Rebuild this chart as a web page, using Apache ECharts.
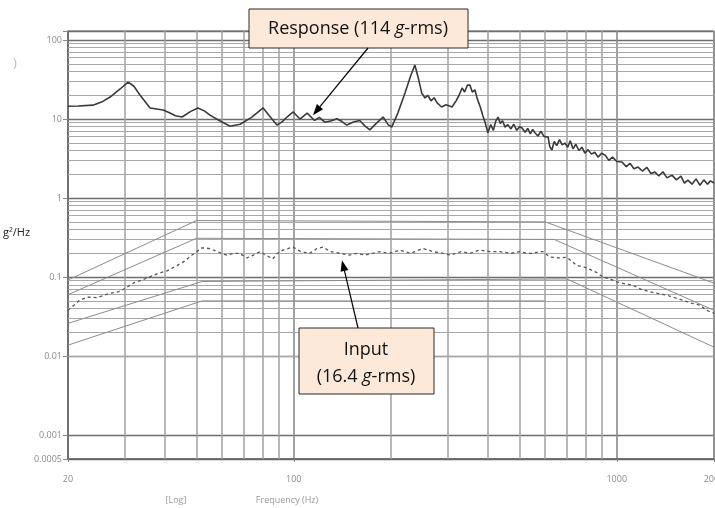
<!DOCTYPE html>
<html>
<head>
<meta charset="utf-8">
<script src="https://cdn.jsdelivr.net/npm/echarts@6/dist/echarts.min.js"></script>
<style>
  html, body { margin: 0; padding: 0; background: #fff; }
  #chart { width: 715px; height: 508px; }
</style>
</head>
<body>
<div id="chart"></div>
<script>
// measured response (solid) and input (dashed), [Hz, g^2/Hz]
const responseData = [
  [20, 14.5], [21.5, 14.6], [23.9, 15], [25.5, 16.5], [27, 19], [29, 24], [30.7, 29.4],
  [32, 26], [33.4, 20.1], [35.9, 13.8], [39.4, 13], [41.4, 11.9], [43, 11], [45.1, 10.6],
  [48, 12.5], [50.5, 13.8], [53, 12.6], [55, 11.2], [59, 9.5], [63.5, 8.1], [68.2, 8.6],
  [74, 10.5], [80.4, 13.8], [84, 11], [88.7, 8.4], [92, 9.2], [95.3, 10.6], [99.6, 12.3],
  [104.5, 10], [110, 11.9], [116, 9.6], [120, 10.5], [125, 9.1], [131, 9.5], [136, 10.1],
  [141, 9.3], [146, 8.4], [153, 9.2], [160, 9.6], [166, 8.2], [172, 7.3], [180, 8.8],
  [189, 10.6], [196, 8.5], [201, 7.9], [210, 11.9], [221, 21.3], [230, 35], [237, 48.3],
  [243, 33], [249, 21.3], [255, 18.5], [260, 20], [266, 17], [272, 18.6], [278, 16],
  [287, 14.2], [296, 15.2], [309, 14.2], [318, 17], [325, 20], [332, 24.7], [338, 22],
  [345, 27], [351, 26.9], [357, 22], [364, 23.3], [370, 18], [378, 14.2], [385, 11],
  [391, 9.1], [399, 6.7], [407, 8.5], [415, 7.2], [422, 9.4], [429, 10.6], [436, 8.8],
  [443, 9.5], [451, 7.9], [460, 8.5], [470, 7.5], [480, 8.6], [490, 7.2], [500, 8.0],
  [509, 7.7], [520, 6.8], [530, 7.6], [540, 6.5], [549, 7.4], [558, 6.7], [570, 6.1],
  [582, 7.0], [596, 6.0], [613, 5.9], [620, 4.5], [630, 4.06], [640, 5.2], [652, 4.6],
  [665, 5.5], [678, 4.7], [691, 4.97], [705, 4.4], [718, 5.3], [732, 4.2], [747, 4.8],
  [763, 4.0], [780, 4.4], [797, 3.7], [815, 4.1], [835, 3.6], [855, 3.8], [875, 3.3],
  [897, 3.7], [920, 3.5], [945, 3.0], [970, 3.3], [1000, 2.9], [1038, 2.86], [1070, 2.5],
  [1100, 2.75], [1130, 2.35], [1164, 2.47], [1200, 2.2], [1240, 2.45], [1275, 2.05],
  [1313, 2.13], [1350, 1.9], [1390, 2.15], [1430, 1.8], [1482, 1.95], [1530, 1.7],
  [1580, 1.9], [1620, 1.55], [1660, 1.69], [1710, 1.5], [1760, 1.75], [1810, 1.45],
  [1860, 1.7], [1910, 1.5], [1950, 1.65], [2000, 1.55]
];
const inputData = [
  [20, 0.038], [21.6, 0.05], [22.9, 0.056], [24.6, 0.055], [26.8, 0.062], [29, 0.066],
  [32, 0.085], [34.6, 0.095], [37.7, 0.11], [40.5, 0.12], [43.5, 0.14], [46, 0.16],
  [48.4, 0.19], [52, 0.235], [55, 0.23], [58, 0.21], [62, 0.19], [65, 0.2], [68, 0.2],
  [71.6, 0.175], [75, 0.19], [78.6, 0.21], [82, 0.19], [86, 0.17], [89, 0.2], [92.6, 0.22],
  [99.4, 0.24], [105, 0.21], [112, 0.2], [118, 0.23], [123, 0.24], [130, 0.21], [139, 0.2],
  [148, 0.19], [157, 0.2], [166, 0.19], [175, 0.2], [185, 0.21], [198, 0.2], [213, 0.22],
  [230, 0.2], [251, 0.23], [270, 0.21], [290, 0.2], [305, 0.19], [330, 0.21], [351, 0.2],
  [375, 0.22], [405, 0.21], [435, 0.21], [470, 0.2], [501, 0.21], [530, 0.2], [551, 0.2],
  [575, 0.21], [591, 0.21], [620, 0.18], [654, 0.175], [701, 0.178], [753, 0.14],
  [790, 0.135], [826, 0.125], [866, 0.115], [906, 0.1], [950, 0.095], [1002, 0.087],
  [1060, 0.082], [1122, 0.079], [1190, 0.07], [1268, 0.065], [1350, 0.062], [1430, 0.059],
  [1510, 0.055], [1603, 0.051], [1700, 0.047], [1810, 0.044], [1900, 0.038], [2000, 0.035]
];
// tolerance band lines
const tolLine1 = [[20, 0.092], [50, 0.52], [600, 0.5], [2000, 0.084]];
const tolLine2 = [[20, 0.06], [50, 0.31], [640, 0.3], [2000, 0.038]];
const tolLine3 = [[20, 0.026], [52, 0.088], [700, 0.095], [2000, 0.013]];
const tolLine4 = [[20, 0.0138], [52, 0.05], [600, 0.05]];

const freqTicks = [20, 100, 1000, 2000];
const levelTicks = [0.0005, 0.001, 0.01, 0.1, 1, 10, 100];
const minorFreqs = [30, 40, 50, 60, 70, 80, 90, 200, 300, 400, 500, 600, 700, 800, 900];
const minorLevels = [
  0.0006, 0.0007, 0.0008, 0.0009,
  0.002, 0.003, 0.004, 0.005, 0.006, 0.007, 0.008, 0.009,
  0.02, 0.03, 0.04, 0.05, 0.06, 0.07, 0.08, 0.09,
  0.2, 0.3, 0.4, 0.5, 0.6, 0.7, 0.8, 0.9,
  2, 3, 4, 5, 6, 7, 8, 9,
  20, 30, 40, 50, 60, 70, 80, 90
];

const font = '"Open Sans", "Liberation Sans", sans-serif';
const chart = echarts.init(document.getElementById('chart'));

function matchTick(list, value) {
  const hit = list.find(t => Math.abs(Math.log10(t) - Math.log10(value)) < 0.005);
  return hit === undefined ? '' : String(hit);
}

function tolSeries(data, withGrid) {
  const s = {
    type: 'line',
    data: data,
    symbol: 'none',
    z: 2,
    lineStyle: { color: '#8c8c8c', width: 1 }
  };
  if (withGrid) {
    s.markLine = {
      silent: true,
      symbol: ['none', 'none'],
      label: { show: false },
      z: 1,
      data: minorFreqs.map(f => ({ xAxis: f, lineStyle: { color: '#a0a0a0', width: 1.5, type: 'solid' } }))
        .concat(minorLevels.map(v => ({ yAxis: v, lineStyle: { color: '#a8a8a8', width: 1, type: 'solid' } })))
    };
  }
  return s;
}

chart.setOption({
  animation: false,
  backgroundColor: '#fff',
  grid: {
    left: 68, right: 1, top: 31, bottom: 49,
    containLabel: false,
    outerBoundsMode: 'none',
    show: true, borderColor: '#666', borderWidth: 1
  },
  xAxis: {
    type: 'log',
    min: 20,
    max: 2000,
    axisLine: { show: true, lineStyle: { color: '#666', width: 1.5 } },
    axisTick: { show: true, length: 3, lineStyle: { color: '#888' } },
    axisLabel: {
      color: '#8a8a8a', fontSize: 9, fontFamily: font, margin: 16,
      showMinLabel: true, showMaxLabel: true, hideOverlap: false,
      formatter: v => matchTick(freqTicks, v)
    },
    splitLine: { show: true, lineStyle: { color: '#8a8a8a', width: 1.6 } },
    minorTick: { show: false },
    minorSplitLine: { show: false }
  },
  yAxis: {
    type: 'log',
    min: 0.0005,
    max: 130,
    axisLine: { show: true, lineStyle: { color: '#666', width: 1.5 } },
    axisTick: { show: true, length: 5, lineStyle: { color: '#888' } },
    axisLabel: {
      color: '#8a8a8a', fontSize: 9, fontFamily: font, margin: 6,
      showMinLabel: true, showMaxLabel: true, hideOverlap: false,
      formatter: v => matchTick(levelTicks, v)
    },
    splitLine: { show: true, lineStyle: { color: '#6e6e6e', width: 1.4 } }
  },
  series: [
    tolSeries(tolLine1, true),
    tolSeries(tolLine2, false),
    tolSeries(tolLine3, false),
    tolSeries(tolLine4, false),
    {
      name: 'Input',
      type: 'line',
      data: inputData,
      symbol: 'none',
      z: 3,
      lineStyle: { color: '#555', width: 1.3, type: [3, 3] }
    },
    {
      name: 'Response',
      type: 'line',
      data: responseData,
      symbol: 'none',
      z: 4,
      lineStyle: { color: '#3a3a3a', width: 1.6 }
    }
  ]
});

// callout arrows: tips sit on data, tails on the boxes
function arrow(from, to) {
  const dx = to[0] - from[0], dy = to[1] - from[1];
  const len = Math.hypot(dx, dy);
  const ux = dx / len, uy = dy / len;
  const head = 11, half = 4;
  const bx = to[0] - ux * head, by = to[1] - uy * head;
  return [
    { type: 'line', z: 100, shape: { x1: from[0], y1: from[1], x2: bx, y2: by },
      style: { stroke: '#000', lineWidth: 1.2 } },
    { type: 'polygon', z: 100,
      shape: { points: [to, [bx - uy * half, by + ux * half], [bx + uy * half, by - ux * half]] },
      style: { fill: '#000' } }
  ];
}

const tipResponse = chart.convertToPixel({ gridIndex: 0 }, [114.7, 11.2]);
const tipInput = chart.convertToPixel({ gridIndex: 0 }, [141, 0.164]);
const boxStyle = { fill: '#fce9da', stroke: '#2a2a2a', lineWidth: 1 };
const italic = { i: { fontStyle: 'italic', fontSize: 18, fontFamily: font, fill: '#111' } };

chart.setOption({
  graphic: [
    { type: 'rect', z: 100, shape: { x: 249, y: 9, width: 219, height: 39 }, style: boxStyle },
    { type: 'text', z: 101, x: 358, y: 29,
      style: { text: 'Response (114 {i|g}-rms)', rich: italic, fontSize: 18, fontFamily: font,
        fill: '#111', align: 'center', verticalAlign: 'middle' } },
    { type: 'rect', z: 100, shape: { x: 299, y: 328, width: 135, height: 66 }, style: boxStyle },
    { type: 'text', z: 101, x: 366, y: 363,
      style: { text: 'Input\n(16.4 {i|g}-rms)', rich: italic, fontSize: 18, fontFamily: font,
        lineHeight: 27, fill: '#111', align: 'center', verticalAlign: 'middle' } },
    { type: 'text', z: 101, x: 3, y: 233,
      style: { text: 'g²/Hz', fontSize: 11, fontFamily: font, fill: '#222', verticalAlign: 'middle' } },
    { type: 'text', z: 101, x: 15, y: 63,
      style: { text: ')', fontSize: 13, fontFamily: font, fill: '#bbb', align: 'center', verticalAlign: 'middle' } },
    { type: 'text', z: 101, x: 176, y: 500,
      style: { text: '[Log]', fontSize: 9, fontFamily: font, fill: '#999', align: 'center', verticalAlign: 'middle' } },
    { type: 'text', z: 101, x: 287, y: 500,
      style: { text: 'Frequency (Hz)', fontSize: 9, fontFamily: font, fill: '#999', align: 'center', verticalAlign: 'middle' } }
  ].concat(arrow([368, 48], tipResponse), arrow([358, 328], tipInput))
});
</script>
</body>
</html>
